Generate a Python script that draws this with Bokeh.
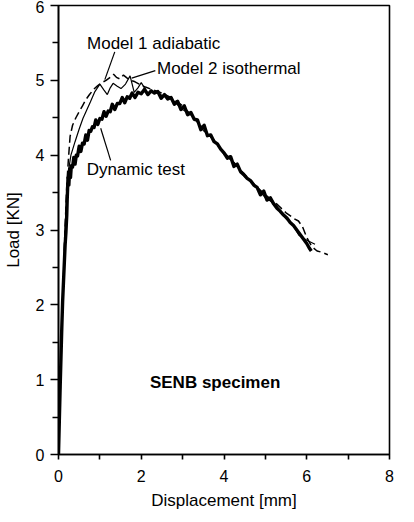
from bokeh.plotting import figure
from bokeh.models import FixedTicker, Label
from bokeh.embed import file_html
from bokeh.resources import INLINE

FONT = "Liberation Sans"

# ---- data ----
test_x = [0.00, 0.02, 0.04, 0.06, 0.08, 0.10, 0.12, 0.14, 0.16, 0.18, 0.20, 0.21, 0.22, 0.23,
          0.25, 0.27, 0.29, 0.31, 0.34, 0.37, 0.40, 0.43, 0.46, 0.50, 0.54, 0.58, 0.62, 0.66,
          0.70, 0.74, 0.78, 0.82, 0.86, 0.90, 0.95, 1.00, 1.05, 1.10, 1.15, 1.20, 1.25, 1.30,
          1.36, 1.42, 1.48, 1.54, 1.60, 1.66, 1.72, 1.78, 1.85, 1.92, 2.00, 2.08, 2.16, 2.24,
          2.32, 2.40, 2.48, 2.56, 2.64, 2.72, 2.80, 2.88, 2.96, 3.04, 3.12, 3.20, 3.28, 3.36,
          3.44, 3.52, 3.60, 3.68, 3.76, 3.84, 3.92, 4.00, 4.08, 4.16, 4.24, 4.32, 4.40, 4.48,
          4.56, 4.64, 4.72, 4.80, 4.88, 4.96, 5.04, 5.12, 5.20, 5.28, 5.36, 5.44, 5.52, 5.60,
          5.68, 5.76, 5.84, 5.92, 6.00, 6.06, 6.11]
test_y = [0.00, 0.45, 0.90, 1.30, 1.70, 2.05, 2.30, 2.55, 2.80, 2.97, 3.20, 3.40, 3.55, 3.70,
          3.60, 3.82, 3.70, 3.86, 3.84, 3.97, 3.88, 4.00, 3.99, 4.12, 4.05, 4.16, 4.15, 4.27,
          4.20, 4.33, 4.32, 4.38, 4.37, 4.47, 4.41, 4.49, 4.48, 4.58, 4.52, 4.59, 4.58, 4.68,
          4.61, 4.69, 4.69, 4.77, 4.70, 4.78, 4.76, 4.83, 4.77, 4.84, 4.82, 4.88, 4.81, 4.86,
          4.83, 4.85, 4.76, 4.81, 4.75, 4.77, 4.68, 4.72, 4.61, 4.66, 4.54, 4.57, 4.48, 4.47,
          4.34, 4.40, 4.26, 4.27, 4.18, 4.15, 4.08, 4.03, 3.96, 3.98, 3.85, 3.88, 3.78, 3.74,
          3.69, 3.66, 3.60, 3.57, 3.47, 3.52, 3.40, 3.43, 3.35, 3.29, 3.25, 3.20, 3.16, 3.10,
          3.06, 3.00, 2.94, 2.88, 2.82, 2.76, 2.72]

model1_x = [0.00, 0.05, 0.10, 0.15, 0.20, 0.24, 0.28, 0.34, 0.42, 0.50, 0.58, 0.66, 0.75, 0.85,
            0.95, 1.05, 1.15, 1.25, 1.33, 1.40, 1.48, 1.57, 1.66, 1.75, 1.85, 1.95, 2.10, 2.30,
            2.50, 2.75, 3.00, 3.25, 3.50, 3.75, 4.00, 4.25, 4.50, 4.75, 5.00, 5.25, 5.50, 5.70,
            5.80, 5.90, 6.00, 6.12, 6.25, 6.38, 6.51]
model1_y = [0.00, 1.00, 2.00, 2.90, 3.60, 3.95, 4.25, 4.40, 4.50, 4.58, 4.66, 4.74, 4.81, 4.88,
            4.93, 4.97, 5.00, 5.04, 5.08, 5.04, 5.02, 5.07, 5.03, 5.00, 4.98, 4.95, 4.91, 4.87,
            4.83, 4.76, 4.66, 4.51, 4.36, 4.20, 4.04, 3.89, 3.74, 3.60, 3.47, 3.36, 3.23, 3.15,
            3.12, 3.04, 2.90, 2.78, 2.72, 2.70, 2.67]

model2_x = [0.00, 0.05, 0.10, 0.15, 0.20, 0.25, 0.30, 0.40, 0.50, 0.59, 0.68, 0.77, 0.88, 1.00,
            1.10, 1.18, 1.25, 1.32, 1.42, 1.51, 1.62, 1.73, 1.83, 1.92, 2.00, 2.15, 2.30, 2.50,
            2.75, 3.00, 3.25, 3.50, 3.75, 4.00, 4.25, 4.50, 4.75, 5.00, 5.25, 5.50, 5.65, 5.81,
            5.95, 6.05, 6.20]
model2_y = [0.00, 1.00, 2.00, 2.90, 3.50, 3.82, 4.00, 4.18, 4.35, 4.49, 4.60, 4.71, 4.85, 4.95,
            4.87, 4.81, 4.90, 4.96, 4.92, 4.89, 4.95, 5.06, 4.84, 4.90, 4.97, 4.83, 4.85, 4.80,
            4.74, 4.61, 4.52, 4.33, 4.21, 4.01, 3.90, 3.71, 3.60, 3.43, 3.34, 3.15, 3.08, 2.93,
            2.88, 2.85, 2.81]

x_ticks = [0, 2, 4, 6, 8]
x_minor_ticks = [1, 3, 5, 7]
y_ticks = [0, 1, 2, 3, 4, 5, 6]
y_minor_ticks = [0.5, 1.5, 2.5, 3.5, 4.5, 5.5]

# annotation texts and anchors (data coordinates)
labels = [
    ("Model 1 adiabatic", 0.69, 5.49, "normal"),
    ("Model 2 isothermal", 2.38, 5.16, "normal"),
    ("Dynamic test", 0.68, 3.81, "normal"),
    ("SENB specimen", 2.21, 0.96, "bold"),
]
pointers = [
    ([1.36, 1.12], [5.38, 5.01]),
    ([2.34, 1.77], [5.13, 5.03]),
    ([1.26, 1.02], [3.93, 4.36]),
]

p = figure(frame_width=331, frame_height=449, x_range=(0, 8), y_range=(0, 6),
           output_backend="svg", toolbar_location=None,
           min_border_left=55, min_border_right=12, min_border_top=5, min_border_bottom=52,
           background_fill_color="white", border_fill_color="white")

p.xgrid.visible = False
p.ygrid.visible = False
p.outline_line_color = "black"
p.outline_line_width = 1.6
p.outline_line_alpha = 1.0

p.xaxis.ticker = FixedTicker(ticks=x_ticks, minor_ticks=x_minor_ticks)
p.yaxis.ticker = FixedTicker(ticks=y_ticks, minor_ticks=y_minor_ticks)

for ax in (p.xaxis[0], p.yaxis[0]):
    ax.axis_line_width = 1.6
    ax.axis_line_color = "black"
    ax.major_tick_line_width = 1.6
    ax.minor_tick_line_width = 1.6
    ax.major_tick_line_color = "black"
    ax.minor_tick_line_color = "black"
    ax.major_tick_in = 0
    ax.minor_tick_in = 0
    ax.major_label_text_font = FONT
    ax.major_label_text_font_size = "16px"
    ax.major_label_text_color = "black"
    ax.axis_label_text_font = FONT
    ax.axis_label_text_font_size = "17px"
    ax.axis_label_text_font_style = "normal"
    ax.axis_label_text_color = "black"

p.xaxis.major_tick_out = 5
p.xaxis.minor_tick_out = 5
p.xaxis.major_label_standoff = 10
p.xaxis.axis_label = "Displacement [mm]"
p.xaxis.axis_label_standoff = 6

p.yaxis.major_tick_out = 8
p.yaxis.minor_tick_out = 6
p.yaxis.major_label_standoff = 6
p.yaxis.axis_label = "Load [KN]"
p.yaxis.axis_label_standoff = 10

# curves
p.line(model1_x, model1_y, line_color="black", line_width=1.5, line_dash="8 4")
p.line(model2_x, model2_y, line_color="black", line_width=1.2)
p.line(test_x, test_y, line_color="black", line_width=3.4, line_join="round")

for xs, ys in pointers:
    p.line(xs, ys, line_color="black", line_width=1.2)

for text, lx, ly, style in labels:
    p.add_layout(Label(x=lx, y=ly, text=text, text_font=FONT, text_font_size="17px",
                       text_font_style=style, text_baseline="middle", text_align="left",
                       text_color="black"))

open("out.html", "w").write(file_html(p, INLINE))
